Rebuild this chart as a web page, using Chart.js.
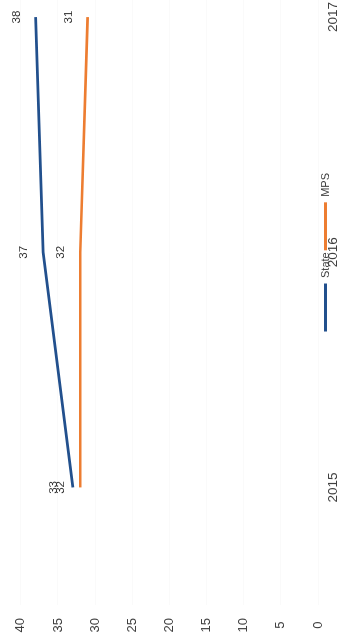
<!DOCTYPE html>
<html>
<head>
<meta charset="utf-8">
<title>State vs MPS</title>
<script src="https://cdn.jsdelivr.net/npm/chart.js@4/dist/chart.umd.min.js"></script>
<style>
  html, body { margin: 0; padding: 0; background: #fff; overflow: hidden; }
  /* the landscape chart is turned a quarter turn counter-clockwise */
  #frame {
    position: absolute; left: 0; top: 0;
    width: 639px; height: 341px; overflow: hidden; background: #fff;
    transform-origin: 0 0;
    transform: translateY(639px) rotate(-90deg);
  }
  #wrap { position: absolute; left: 0; top: 0; width: 771px; height: 341px; }
</style>
</head>
<body>
<div id="frame"><div id="wrap"><canvas id="chart" width="771" height="341"></canvas></div></div>
<script>
const years = ['2015', '2016', '2017'];
const stateValues = [33, 37, 38];
const mpsValues = [32, 32, 31];
const valueTicks = [0, 5, 10, 15, 20, 25, 30, 35, 40];

const FONT = '"Liberation Sans", Arial, sans-serif';
const TEXT = '#404040';

// value labels written just above each point
const pointLabels = {
  id: 'pointLabels',
  afterDatasetsDraw(chart) {
    const ctx = chart.ctx;
    ctx.save();
    ctx.font = '11.5px ' + FONT;
    ctx.fillStyle = '#333333';
    ctx.textAlign = 'center';
    ctx.textBaseline = 'middle';
    chart.data.datasets.forEach((ds, i) => {
      chart.getDatasetMeta(i).data.forEach((pt, j) => {
        ctx.fillText(String(ds.data[j]), pt.x, pt.y - 19);
      });
    });
    ctx.restore();
  }
};

new Chart(document.getElementById('chart'), {
  type: 'line',
  data: {
    labels: years,
    datasets: [
      {
        label: 'State',
        data: stateValues,
        borderColor: '#22508d',
        backgroundColor: '#22508d',
        borderWidth: 2.8,
        pointRadius: 0,
        tension: 0
      },
      {
        label: 'MPS',
        data: mpsValues,
        borderColor: '#ed7d31',
        backgroundColor: '#ed7d31',
        borderWidth: 2.6,
        pointRadius: 0,
        tension: 0
      }
    ]
  },
  options: {
    responsive: false,
    animation: false,
    layout: { padding: { top: 16, right: 31.5, bottom: 0, left: 0 } },
    plugins: {
      tooltip: { enabled: false },
      legend: {
        position: 'bottom',
        fullSize: false,
        labels: {
          boxWidth: 48,
          boxHeight: 3,
          padding: 2,
          color: TEXT,
          font: { family: FONT, size: 11 },
          generateLabels(chart) {
            return Chart.defaults.plugins.legend.labels.generateLabels(chart)
              .map(item => Object.assign(item, { lineWidth: 0 }));
          }
        }
      }
    },
    scales: {
      x: {
        offset: true,
        grid: { display: false, drawTicks: false },
        border: { display: false },
        // year labels share the bottom strip with the legend
        ticks: {
          color: TEXT,
          font: { family: FONT, size: 13.5 },
          mirror: true,
          padding: -23,
          maxRotation: 0
        },
        afterFit(scale) { scale.height = 0; }
      },
      y: {
        min: 0,
        max: 40,
        afterBuildTicks(scale) { scale.ticks = valueTicks.map(v => ({ value: v })); },
        grid: { color: 'rgba(0,0,0,0.02)', drawTicks: false },
        border: { display: false },
        ticks: {
          color: TEXT,
          font: { family: FONT, size: 13 },
          padding: 13,
          crossAlign: 'center'
        },
        afterFit(scale) { scale.width = 34; }
      }
    }
  },
  plugins: [pointLabels]
});
</script>
</body>
</html>
